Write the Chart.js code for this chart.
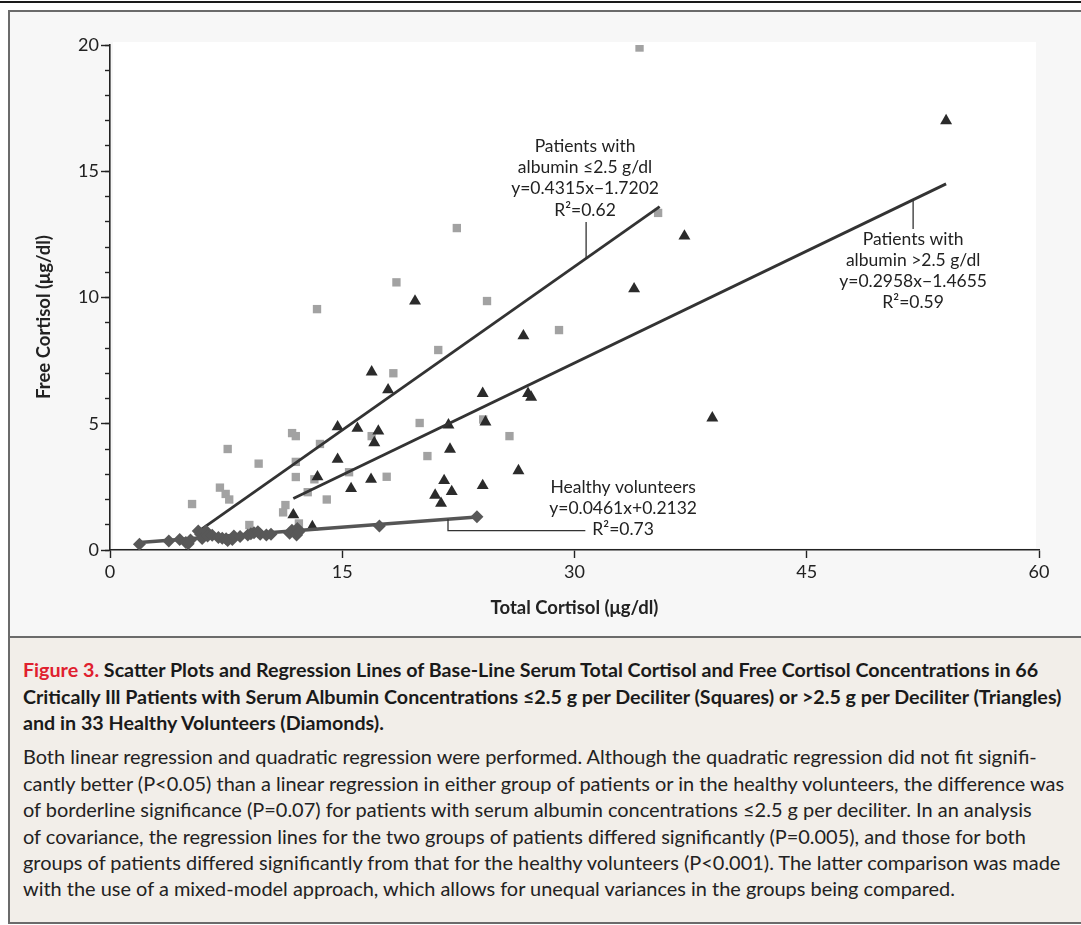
<!DOCTYPE html>
<html><head><meta charset="utf-8">
<script src="https://cdn.jsdelivr.net/npm/chart.js@4.4.1/dist/chart.umd.min.js"></script>
<style>
html,body{margin:0;padding:0;background:#fff;width:1081px;height:925px;overflow:hidden;font-family:Lato,"Open Sans",sans-serif;}
#topline{position:absolute;left:0;top:1px;width:1081px;height:2px;background:#1a1a1a;}
#frame{position:absolute;left:8px;top:10px;width:1100px;height:914px;box-sizing:border-box;border:2px solid #6b6b6b;background:#f7f7f7;}
#chartwrap{position:absolute;left:0;top:0;width:1081px;height:636px;z-index:1;}
#caption{position:absolute;left:10px;top:636px;width:1080px;height:286px;box-sizing:border-box;border-top:2px solid #6b6b6b;background:#f2eee9;z-index:2;}
.cl{position:absolute;left:13px;white-space:nowrap;line-height:26px;color:#1a1a1a;}
.bold{font-weight:700;font-size:17px;}
.body{font-weight:400;font-size:17px;color:#222;}
.red{color:#e0202e;}
</style></head>
<body>
<div id="topline"></div>
<div id="frame"></div>
<div id="chartwrap"><canvas id="c" width="1081" height="636"></canvas></div>
<div id="caption">
<div class="cl bold" id="b1" style="top:19px"><span class="red">Figure 3.</span> Scatter Plots and Regression Lines of Base-Line Serum Total Cortisol and Free Cortisol Concentrations in 66</div>
<div class="cl bold" id="b2" style="top:46px">Critically Ill Patients with Serum Albumin Concentrations ≤2.5 g per Deciliter (Squares) or &gt;2.5 g per Deciliter (Triangles)</div>
<div class="cl bold" style="top:72px">and in 33 Healthy Volunteers (Diamonds).</div>
<div class="cl body" style="top:105px">Both linear regression and quadratic regression were performed. Although the quadratic regression did not fit signifi-</div>
<div class="cl body" id="p2" style="top:132px">cantly better (P&lt;0.05) than a linear regression in either group of patients or in the healthy volunteers, the difference was</div>
<div class="cl body" style="top:158px">of borderline significance (P=0.07) for patients with serum albumin concentrations ≤2.5 g per deciliter. In an analysis</div>
<div class="cl body" style="top:185px">of covariance, the regression lines for the two groups of patients differed significantly (P=0.005), and those for both</div>
<div class="cl body" style="top:211px">groups of patients differed significantly from that for the healthy volunteers (P&lt;0.001). The latter comparison was made</div>
<div class="cl body" style="top:237px">with the use of a mixed-model approach, which allows for unequal variances in the groups being compared.</div>
</div>
<script>
// ---- data ----
const xTicks = [0, 15, 30, 45, 60];
const yTicks = [0, 5, 10, 15, 20];
const xTitle = "Total Cortisol (\u03bcg/dl)";
const yTitle = "Free Cortisol (\u03bcg/dl)";

const lowAlbuminPoints = [
  [34.2,19.9],[22.4,12.75],[18.5,10.6],[24.35,9.86],[13.37,9.54],[29.0,8.71],[35.4,13.35],
  [21.2,7.92],[18.3,7.0],[20.0,5.03],[11.76,4.63],[12.0,4.51],[7.6,4.0],[9.6,3.42],
  [12.0,3.49],[13.56,4.2],[7.1,2.47],[7.47,2.22],[7.7,2.0],[5.3,1.82],[12.0,2.89],
  [13.2,2.8],[12.77,2.29],[14.0,2.0],[11.33,1.78],[11.18,1.49],[9.0,0.99],[12.2,1.05],
  [24.1,5.17],[25.8,4.51],[16.9,4.51],[20.5,3.72],[15.44,3.08],[17.87,2.9]
];
const highAlbuminPoints = [
  [54.0,17.0],[37.1,12.43],[33.85,10.34],[19.7,9.86],[26.7,8.48],[27.0,6.2],[27.2,6.05],
  [38.9,5.23],[16.9,7.05],[17.96,6.34],[24.07,6.2],[14.7,4.88],[15.98,4.82],[17.33,4.71],
  [17.07,4.25],[21.86,4.95],[24.25,5.07],[14.7,3.59],[21.96,3.99],[16.86,2.8],[15.57,2.43],
  [26.38,3.14],[21.58,2.75],[21.0,2.17],[22.07,2.31],[21.38,1.85],[24.07,2.55],[13.4,2.9],
  [11.84,1.39],[13.07,0.92]
];
const healthyPoints = [
  [1.9,0.23],[3.8,0.36],[4.5,0.42],[4.9,0.30],[5.05,0.25],[5.2,0.40],[5.7,0.75],[5.85,0.62],
  [5.95,0.46],[6.2,0.75],[6.3,0.55],[6.6,0.58],[7.0,0.50],[7.25,0.47],[7.5,0.45],[7.6,0.38],
  [7.9,0.42],[8.0,0.55],[8.4,0.53],[8.9,0.59],[9.1,0.64],[9.3,0.68],[9.55,0.72],[9.7,0.62],
  [10.1,0.59],[10.4,0.62],[11.6,0.66],[11.75,0.78],[12.05,0.59],[12.1,0.85],[12.2,0.72],
  [17.4,0.95],[23.7,1.32]
];
const lowAlbuminFit = [[5.8,0.78],[35.5,13.6]];
const highAlbuminFit = [[11.84,2.04],[54.0,14.5]];
const healthyFit = [[1.9,0.30],[23.7,1.31]];

const lowAlbuminLabel = ["Patients with","albumin \u22642.5 g/dl","y=0.4315x\u22121.7202","R\u00b2=0.62"];
const highAlbuminLabel = ["Patients with","albumin >2.5 g/dl","y=0.2958x\u22121.4655","R\u00b2=0.59"];
const healthyLabel = ["Healthy volunteers","y=0.0461x+0.2132","R\u00b2=0.73"];

// ---- helpers ----
const toXY = arr => arr.map(p => ({x: p[0], y: p[1]}));
function fitY(fit, xv){
  const [a,b] = fit;
  return a[1] + (b[1]-a[1])*(xv-a[0])/(b[0]-a[0]);
}

const FONT = 'Lato, "Open Sans", sans-serif';
const TEXT = '#222';

const bgPlugin = {
  id: 'plotbg',
  beforeDraw(chart){
    const {ctx, chartArea:a} = chart;
    ctx.save();
    ctx.fillStyle = '#ffffff';
    ctx.fillRect(a.left+3, a.top-3, a.right-a.left-6, a.bottom-a.top+1);
    ctx.restore();
  }
};

const annotPlugin = {
  id: 'annot',
  afterDraw(chart){
    const {ctx, scales:{x, y}} = chart;
    ctx.save();
    ctx.fillStyle = TEXT;
    ctx.font = '17.5px ' + FONT;
    ctx.textAlign = 'center';
    ctx.textBaseline = 'middle';
    const lh = 21.3;
    function block(lines, xv, yv){
      const px = x.getPixelForValue(xv), py = y.getPixelForValue(yv);
      lines.forEach((t,i)=>ctx.fillText(t, px, py + i*lh));
      return {px, py};
    }
    const A = block(lowAlbuminLabel, 30.68, 16.0);
    const B = block(highAlbuminLabel, 51.87, 12.32);
    const C = block(healthyLabel, 33.14, 2.495);

    ctx.strokeStyle = '#333';
    ctx.lineWidth = 1.3;
    ctx.beginPath();
    // low albumin leader
    let lx = x.getPixelForValue(30.75);
    ctx.moveTo(lx, A.py + 3*lh + 12);
    ctx.lineTo(lx, y.getPixelForValue(fitY(lowAlbuminFit, 30.75)));
    // high albumin leader
    lx = x.getPixelForValue(51.87);
    ctx.moveTo(lx, y.getPixelForValue(fitY(highAlbuminFit, 51.87)));
    ctx.lineTo(lx, B.py - 10);
    // healthy leader
    lx = x.getPixelForValue(21.83);
    const ly = C.py + 2*lh + 1;
    ctx.moveTo(lx, y.getPixelForValue(fitY(healthyFit, 21.83)));
    ctx.lineTo(lx, ly);
    ctx.lineTo(x.getPixelForValue(30.7), ly);
    ctx.stroke();

    // y axis title
    ctx.font = 'bold 18.5px ' + FONT;
    ctx.translate(44, 317);
    ctx.rotate(-Math.PI/2);
    ctx.fillText(yTitle, 0, 0);
    ctx.restore();
  }
};

function makeChart(){
  Chart.defaults.font.family = FONT;
  Chart.defaults.color = TEXT;
  const lineDs = (fit, color, w, order) => ({
    type: 'line', data: toXY(fit), borderColor: color, borderWidth: w,
    pointRadius: 0, fill: false, order: order, borderCapStyle: 'butt'
  });
  new Chart(document.getElementById('c'), {
    type: 'scatter',
    data: {
      datasets: [
        {label:'Healthy volunteers', data: toXY(healthyPoints), pointStyle:'rectRot', pointRadius:6.5,
         backgroundColor:'#585858', borderWidth:0, order:0},
        Object.assign(lineDs(healthyFit, '#555', 3.5, 1), {label:'Healthy fit'}),
        Object.assign(lineDs(lowAlbuminFit, '#333', 2.8, 2), {label:'Low fit'}),
        Object.assign(lineDs(highAlbuminFit, '#333', 2.8, 2), {label:'High fit'}),
        {label:'Albumin >2.5', data: toXY(highAlbuminPoints), pointStyle:'triangle', pointRadius:6.9,
         backgroundColor:'#2b2b2b', borderWidth:0, order:3},
        {label:'Albumin \u22642.5', data: toXY(lowAlbuminPoints), pointStyle:'rect', pointRadius:5.9,
         backgroundColor:'#a2a2a2', borderWidth:0, order:4}
      ]
    },
    options: {
      responsive: false,
      animation: false,
      events: [],
      layout: {padding: {left:0, top:45, right:42, bottom:17}},
      plugins: {legend:{display:false}, tooltip:{enabled:false}},
      scales: {
        x: {
          type:'linear', min: xTicks[0], max: xTicks[xTicks.length-1],
          afterBuildTicks: s => { s.ticks = xTicks.map(v=>({value:v})); },
          afterFit: s => { s.height = 69; },
          border: {display:true, color:'#222', width:1.6},
          grid: {drawOnChartArea:false, drawTicks:true, tickLength:8, tickColor:'#222', tickWidth:1.4},
          ticks: {font:{size:18}, color:TEXT, padding:3, maxRotation:0},
          title: {display:true, text:xTitle, font:{size:18.5, weight:'bold'}, color:TEXT, padding:0}
        },
        y: {
          type:'linear', min: yTicks[0], max: yTicks[yTicks.length-1], weight: 1,
          afterBuildTicks: s => { s.ticks = yTicks.map(v=>({value:v})); },
          afterFit: s => { s.width = 110; },
          border: {display:true, color:'#222', width:1.6},
          grid: {drawOnChartArea:false, drawTicks:true, tickLength:9, tickColor:'#222', tickWidth:1.4},
          ticks: {font:{size:18}, color:TEXT, padding:2}
        },
        yMinor: {
          type:'linear', position:'left', min: yTicks[0], max: yTicks[yTicks.length-1], weight: 0,
          ticks: {stepSize:1, display:false},
          afterFit: s => { s.width = 0; },
          border: {display:false},
          grid: {drawOnChartArea:false, drawTicks:true, tickLength:5, tickColor:'#222', tickWidth:1.4}
        }
      }
    },
    plugins: [bgPlugin, annotPlugin]
  });
}

function fitCaption(){
  const b2 = document.getElementById('b2').getBoundingClientRect().width;
  const p2 = document.getElementById('p2').getBoundingClientRect().width;
  const bs = 17 * 1039 / b2;
  const ps = 17 * 1042 / p2;
  document.querySelectorAll('.bold').forEach(e=>e.style.fontSize = bs.toFixed(2)+'px');
  document.querySelectorAll('.body').forEach(e=>e.style.fontSize = ps.toFixed(2)+'px');
}

Promise.all([
  document.fonts.load('16px Lato'), document.fonts.load('bold 16px Lato')
]).catch(()=>{}).then(()=>{ fitCaption(); makeChart(); });
</script>
</body></html>
